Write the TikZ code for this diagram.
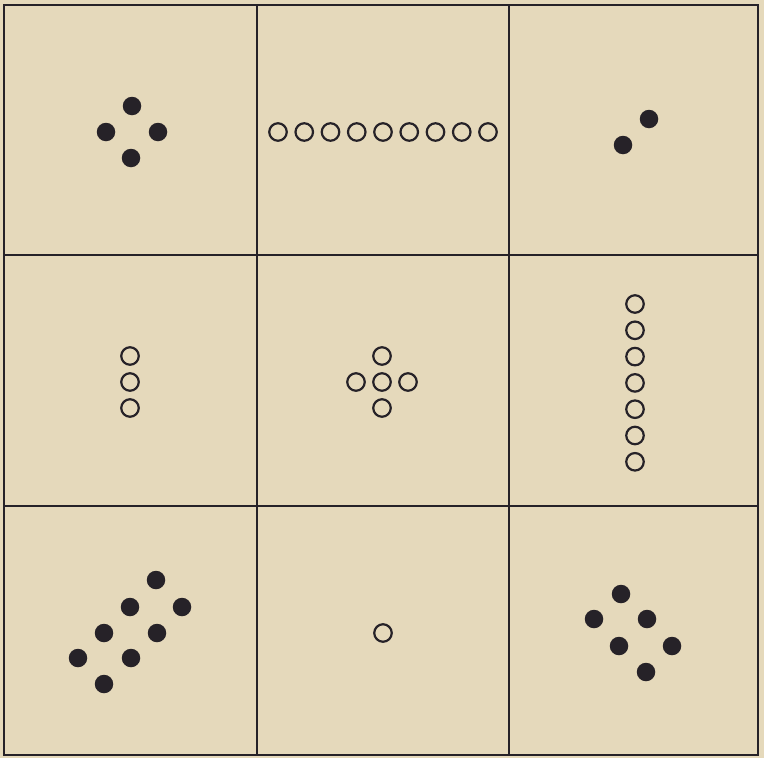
\documentclass[tikz,border=0pt]{standalone}
\definecolor{paper}{RGB}{229,217,187}
\definecolor{ink}{RGB}{38,34,40}
\begin{document}
\begin{tikzpicture}[x=1pt,y=-1pt,
  spot/.style={circle,fill=ink,inner sep=0pt,minimum size=18.5pt},
  ring/.style={circle,draw=ink,line width=2.2pt,inner sep=0pt,minimum size=17.5pt},
  rule/.style={draw=ink,line width=2.6pt}]
  \fill[paper] (0,0) rectangle (764,758);
  % frame and grid
  \draw[rule] (4,5) rectangle (758,755);
  \draw[rule] (257,5) -- (257,755);
  \draw[rule] (509,5) -- (509,755);
  \draw[rule] (4,255) -- (758,255);
  \draw[rule] (4,506) -- (758,506);
  % top row
  \node[spot] (a1) at (132,106) {};
  \node[spot] (a2) at (106,132) {};
  \node[spot] (a3) at (158,132) {};
  \node[spot] (a4) at (131,158) {};
  \foreach \i in {0,...,8}
    \node[ring] (b\i) at (278+26.25*\i,132) {};
  \node[spot] (c1) at (649,119) {};
  \node[spot] (c2) at (623,145) {};
  % middle row
  \foreach \i in {0,1,2}
    \node[ring] (d\i) at (130,356+26*\i) {};
  \node[ring] (e1) at (382,356) {};
  \node[ring] (e2) at (356,382) {};
  \node[ring] (e3) at (382,382) {};
  \node[ring] (e4) at (408,382) {};
  \node[ring] (e5) at (382,408) {};
  \foreach \i in {0,...,6}
    \node[ring] (f\i) at (635,304+26.3*\i) {};
  % bottom row
  \node[spot] (g1) at (156,580) {};
  \node[spot] (g2) at (130,607) {};
  \node[spot] (g3) at (182,607) {};
  \node[spot] (g4) at (104,633) {};
  \node[spot] (g5) at (157,633) {};
  \node[spot] (g6) at (78,658) {};
  \node[spot] (g7) at (131,658) {};
  \node[spot] (g8) at (104,684) {};
  \node[ring] (h1) at (383,633) {};
  \node[spot] (k1) at (621,594) {};
  \node[spot] (k2) at (594,619) {};
  \node[spot] (k3) at (647,619) {};
  \node[spot] (k4) at (619,646) {};
  \node[spot] (k5) at (672,646) {};
  \node[spot] (k6) at (646,672) {};
\end{tikzpicture}
\end{document}
